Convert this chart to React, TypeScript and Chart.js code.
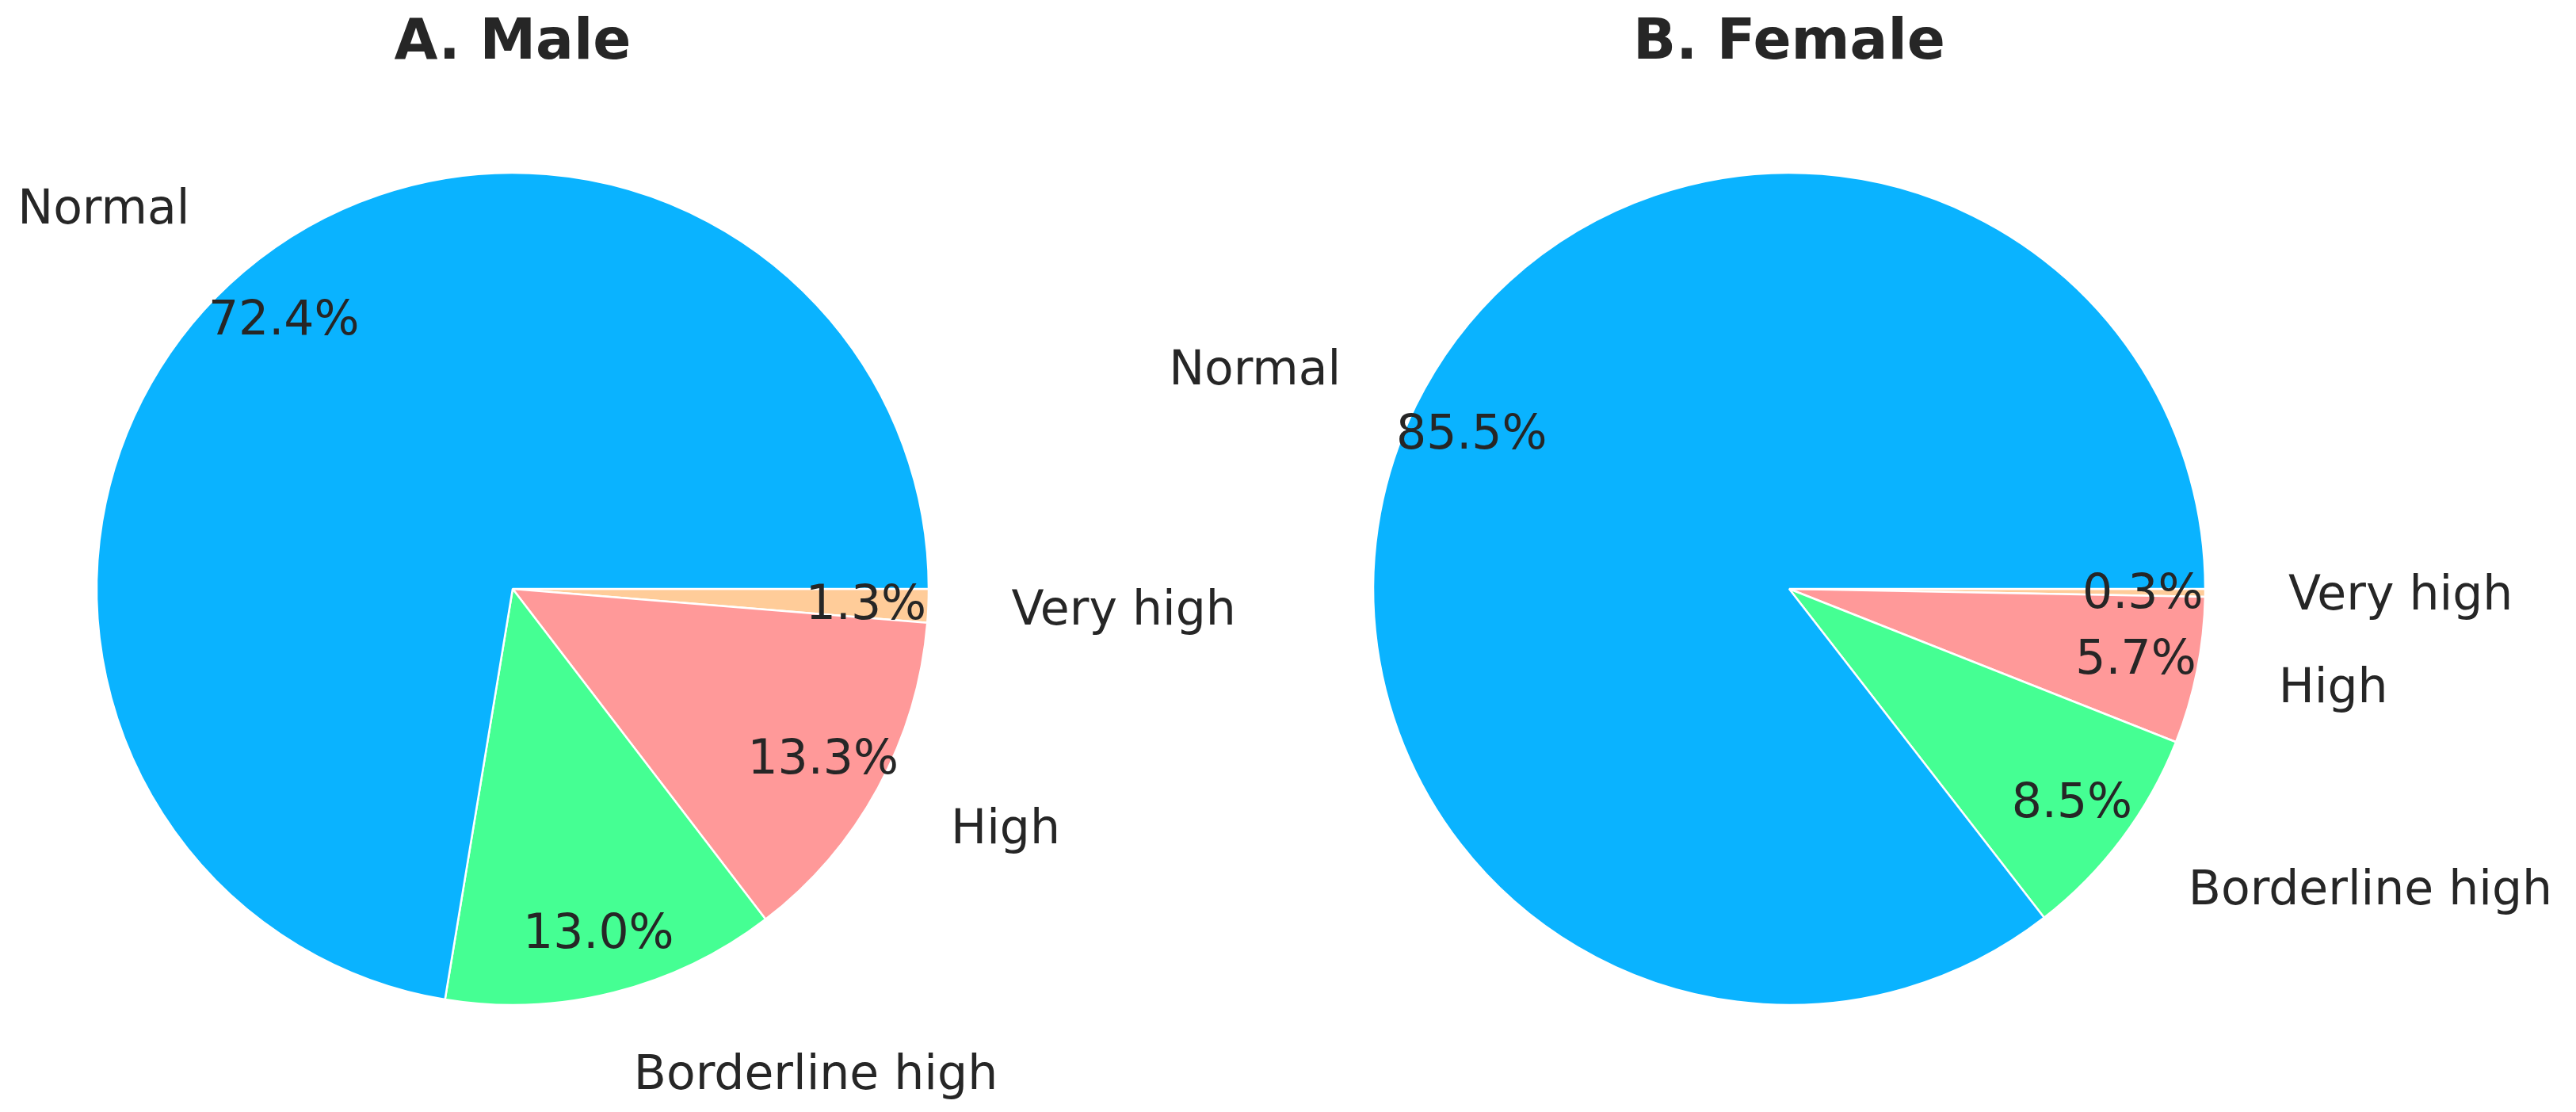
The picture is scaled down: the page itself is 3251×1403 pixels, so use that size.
import React, { useEffect, useRef } from 'react';
import { Chart, registerables } from 'chart.js';

Chart.register(...registerables);

const categories = ['Normal', 'Borderline high', 'High', 'Very high'];
const maleValues = [72.4, 13.0, 13.3, 1.3];
const femaleValues = [85.5, 8.5, 5.7, 0.3];
const sliceColors = ['#0ab3ff', '#45ff93', '#ff9999', '#ffcc99'];
const panelTitles = ['A. Male', 'B. Female'];

const TEXT_COLOR = '#262626';
const FONT = '"DejaVu Sans", "Liberation Sans", sans-serif';
const W = 3251;
const H = 1403;

const pieText = {
  id: 'pieText',
  afterDatasetsDraw(chart: any, _args: any, opts: any) {
    const ctx = chart.ctx;
    const meta = chart.getDatasetMeta(0);
    const labels = chart.data.labels as string[];
    const data = chart.data.datasets[0].data as number[];
    const total = data.reduce((a, b) => a + b, 0);
    ctx.save();
    ctx.fillStyle = TEXT_COLOR;
    meta.data.forEach((arc: any, i: number) => {
      const p = arc.getProps(['x', 'y', 'startAngle', 'endAngle', 'outerRadius'], true);
      const mid = (p.startAngle + p.endAngle) / 2;
      const c = Math.cos(mid);
      const s = Math.sin(mid);
      ctx.font = `60px ${FONT}`;
      ctx.textBaseline = 'middle';
      ctx.textAlign = c >= 0 ? 'left' : 'right';
      ctx.fillText(labels[i], p.x + c * p.outerRadius * 1.2, p.y + s * p.outerRadius * 1.2 + 4);
      ctx.textAlign = 'center';
      ctx.fillText(
        ((data[i] / total) * 100).toFixed(1) + '%',
        p.x + c * p.outerRadius * 0.85,
        p.y + s * p.outerRadius * 0.85 + 4
      );
    });
    const first = meta.data[0];
    ctx.font = `bold 71px ${FONT}`;
    ctx.textAlign = 'center';
    ctx.textBaseline = 'alphabetic';
    ctx.fillText(opts.title, first.x, 74);
    ctx.restore();
  },
};

function makeChart(canvas: HTMLCanvasElement, values: number[], title: string, padding: any) {
  // matplotlib draws counter-clockwise from 3 o'clock; Chart.js draws clockwise,
  // so reverse the order and start at 3 o'clock.
  const labels = [...categories].reverse();
  const data = [...values].reverse();
  const colors = [...sliceColors].reverse();
  return new Chart(canvas, {
    type: 'pie',
    data: {
      labels,
      datasets: [
        {
          data,
          backgroundColor: colors,
          borderColor: '#ffffff',
          borderWidth: 2.5,
          hoverOffset: 0,
        },
      ],
    },
    options: {
      responsive: false,
      animation: false,
      devicePixelRatio: 1,
      rotation: 90,
      radius: 525,
      layout: { padding },
      plugins: {
        legend: { display: false },
        tooltip: { enabled: false },
        title: { display: false },
        pieText: { title },
      } as any,
    },
    plugins: [pieText as any],
  });
}

export default function App() {
  const refA = useRef<HTMLCanvasElement>(null);
  const refB = useRef<HTMLCanvasElement>(null);

  useEffect(() => {
    document.body.style.margin = '0';
    document.body.style.background = '#ffffff';
    const a = makeChart(refA.current!, maleValues, panelTitles[0], {
      left: 122,
      right: W - 1172,
      top: 218,
      bottom: 135,
    });
    const b = makeChart(refB.current!, femaleValues, panelTitles[1], {
      left: 1733,
      right: W - 2783,
      top: 218,
      bottom: 135,
    });
    return () => {
      a.destroy();
      b.destroy();
    };
  }, []);

  const cs: React.CSSProperties = { position: 'absolute', left: 0, top: 0, width: W, height: H };
  return (
    <div style={{ position: 'relative', width: W, height: H, background: '#ffffff' }}>
      <canvas ref={refA} width={W} height={H} style={cs} />
      <canvas ref={refB} width={W} height={H} style={cs} />
    </div>
  );
}
